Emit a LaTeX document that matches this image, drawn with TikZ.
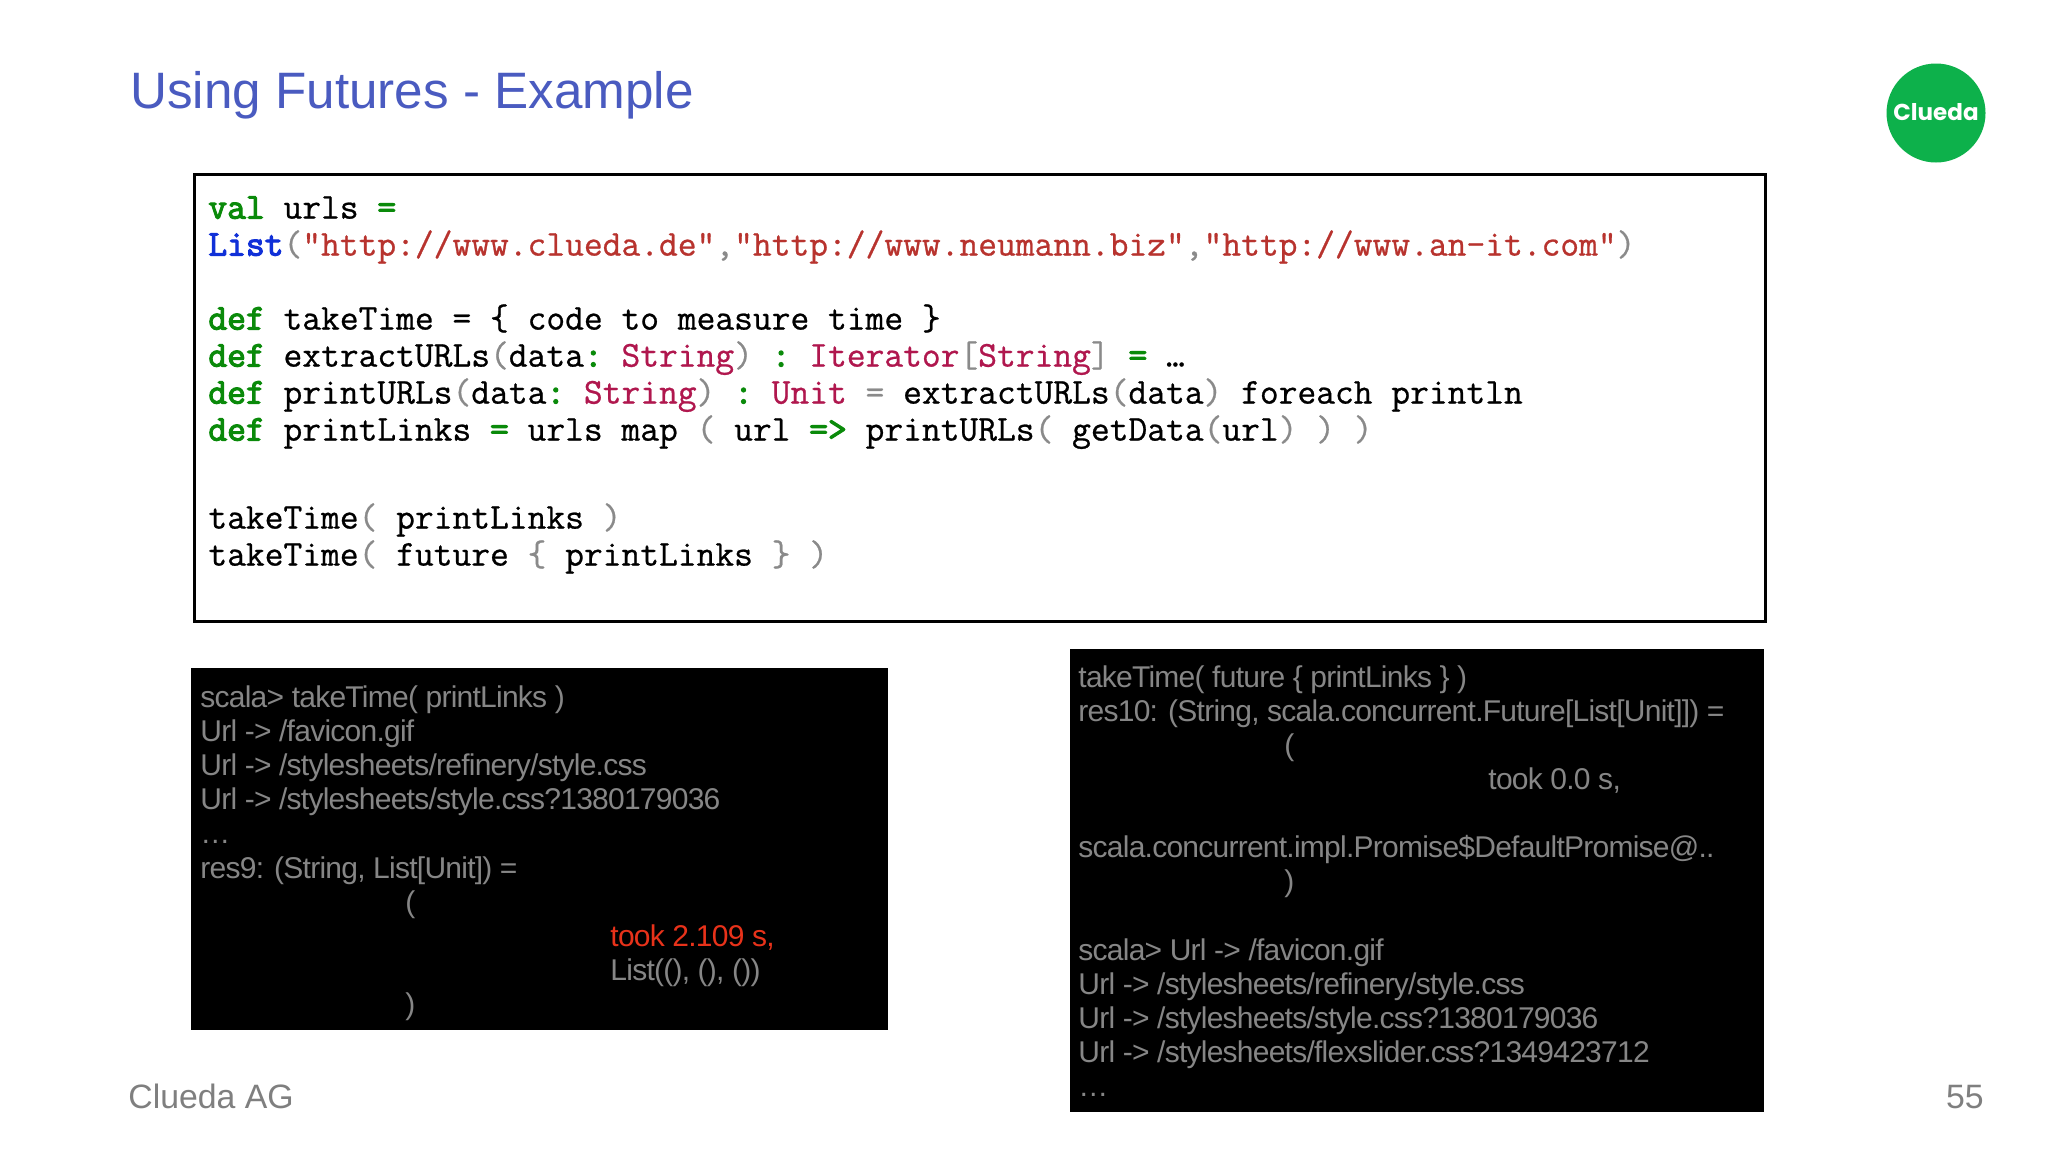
\documentclass[tikz,border=0pt]{standalone}
\usepackage{fontspec}
\setmainfont{Liberation Sans}
\newfontfamily\logofont{Poppins}
\newfontfamily\termfont{Liberation Sans}[LetterSpace=-2.5]
\setmonofont{Latin Modern Mono}[FakeBold=0.7]
\newfontfamily\codebold{Latin Modern Mono}[FakeBold=3]
\usetikzlibrary{positioning}
\definecolor{titleblue}{HTML}{4A5BC0}
\definecolor{cluedagreen}{HTML}{0DB14B}
\definecolor{kwgreen}{HTML}{0A8A0A}
\definecolor{listblue}{HTML}{1030D8}
\definecolor{strred}{HTML}{B8332E}
\definecolor{typered}{HTML}{B0174E}
\definecolor{parengray}{HTML}{8A8A8A}
\definecolor{termgray}{HTML}{868686}
\definecolor{tookred}{HTML}{E8321A}
\definecolor{footgray}{HTML}{7F7F7F}
\newcommand{\kwd}[1]{\textcolor{kwgreen}{\codebold #1}}
\newcommand{\lst}[1]{\textcolor{listblue}{\codebold #1}}
\newcommand{\strg}[1]{\textcolor{strred}{#1}}
\newcommand{\typ}[1]{\textcolor{typered}{#1}}
\newcommand{\prn}[1]{\textcolor{parengray}{#1}}
\tikzset{
  codeline/.style={anchor=base west, inner sep=0pt, font=\ttfamily\fontsize{18.23}{20}\selectfont\frenchspacing},
  termline/.style={anchor=base west, inner sep=0pt, text=termgray, font=\termfont\fontsize{15}{18}\selectfont},
  termbox/.style={shape=rectangle, draw=none, fill=black, inner sep=0pt, outer sep=0pt}
}
\begin{document}
\begin{tikzpicture}[x=0.5pt, y=-0.5pt]
\useasboundingbox (0,0) rectangle (2048,1152);
\fill[white] (0,0) rectangle (2048,1152);
\node[anchor=base west, inner sep=0pt, text=titleblue, font=\fontsize{25.6}{30}\selectfont] (title) at (130,108) {Using Futures - Example};
\node[shape=circle, minimum size=49.5pt, inner sep=0pt, fill=cluedagreen, text=white, text depth=1pt, font=\logofont\bfseries\fontsize{11.5}{14}\selectfont] (logo) at (1936,113) {Clueda};
\node[shape=rectangle, minimum height=223.5pt, minimum width=785.6pt, inner sep=0pt, draw=black, line width=1.5pt, fill=white] (codebox) at (980.2,398.2) {};
\node[codeline] (c1) at (208,218.6) {\kwd{val} urls \kwd{=}};
\node[codeline] (c2) at (208,255.6) {\lst{List}\prn{(}\strg{"http://www.clueda.de"}\prn{,}\strg{"http://www.neumann.biz"}\prn{,}\strg{"http://www.an-it.com"}\prn{)}};
\node[codeline] (c3) at (208,329.6) {\kwd{def} takeTime = \{ code to measure time \}};
\node[codeline] (c4) at (208,366.6) {\kwd{def} extractURLs\prn{(}data\kwd{:} \typ{String}\prn{)} \kwd{:} \typ{Iterator}\prn{[}\typ{String}\prn{]} \kwd{=} …};
\node[codeline] (c5) at (208,403.6) {\kwd{def} printURLs\prn{(}data\kwd{:} \typ{String}\prn{)} \kwd{:} \typ{Unit} \prn{=} extractURLs\prn{(}data\prn{)} foreach println};
\node[codeline] (c6) at (208,440.6) {\kwd{def} printLinks \kwd{=} urls map \prn{(} url \kwd{=>} printURLs\prn{(} getData\prn{(}url\prn{)} \prn{)} \prn{)}};
\node[codeline] (c7) at (208,528.6) {takeTime\prn{(} printLinks \prn{)}};
\node[codeline] (c8) at (208,565.6) {takeTime\prn{(} future \prn{\{} printLinks \prn{\}} \prn{)}};
\node[termbox, minimum width=348.65pt, minimum height=180.7pt] (leftbox) at (539.35,848.85) {};
\node[termline] (l1) at (200,707) {scala> takeTime( printLinks )};
\node[termline] (l2) at (200,741) {Url -> /favicon.gif};
\node[termline] (l3) at (200,775) {Url -> /stylesheets/refinery/style.css};
\node[termline] (l4) at (200,809) {Url -> /stylesheets/style.css?1380179036};
\node[termline] (l5) at (200,843) {…};
\node[termline] (l6) at (200,878) {res9: (String, List[Unit]) =};
\node[termline] (l7) at (405,912) {(};
\node[termline, text=tookred] (l8) at (610,946) {took 2.109 s,};
\node[termline] (l9) at (610,980) {List((), (), ())};
\node[termline] (l10) at (405,1014) {)};
\node[termbox, minimum width=346.8pt, minimum height=231.25pt] (rightbox) at (1416.9,880.25) {};
\node[termline] (r1) at (1078,687) {takeTime( future \{ printLinks \} )};
\node[termline] (r2) at (1078,721) {res10: (String, scala.concurrent.Future[List[Unit]]) =};
\node[termline] (r3) at (1284,755) {(};
\node[termline] (r4) at (1488,789) {took 0.0 s,};
\node[termline] (r5) at (1078,857) {scala.concurrent.impl.Promise\$DefaultPromise@..};
\node[termline] (r6) at (1284,891) {)};
\node[termline] (r7) at (1078,960) {scala> Url -> /favicon.gif};
\node[termline] (r8) at (1078,994) {Url -> /stylesheets/refinery/style.css};
\node[termline] (r9) at (1078,1028) {Url -> /stylesheets/style.css?1380179036};
\node[termline] (r10) at (1078,1062) {Url -> /stylesheets/flexslider.css?1349423712};
\node[termline] (r11) at (1078,1096) {…};
\node[anchor=base west, inner sep=0pt, text=footgray, font=\fontsize{16.9}{20}\selectfont] (footer) at (128,1108) {Clueda AG};
\node[anchor=base east, inner sep=0pt, text=footgray, font=\fontsize{16.9}{20}\selectfont] (pageno) at (1984,1108) {55};
\end{tikzpicture}
\end{document}
